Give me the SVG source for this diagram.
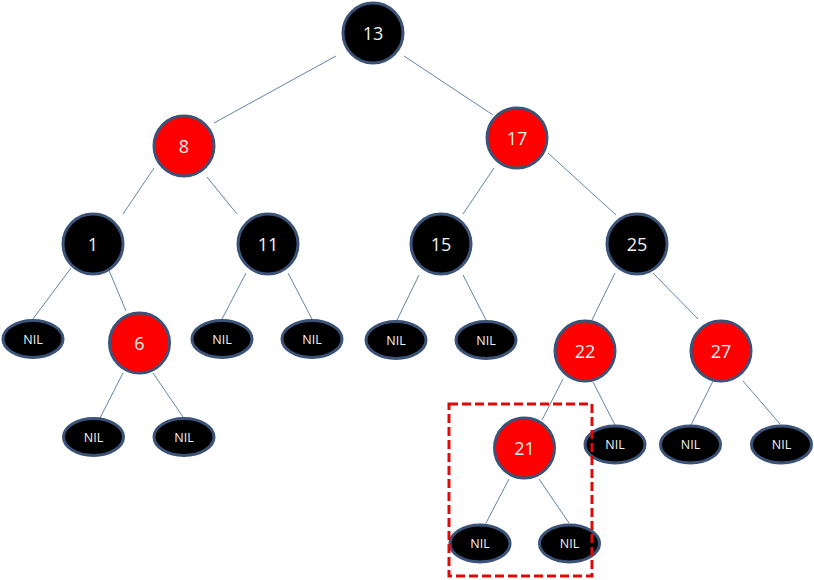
<svg xmlns="http://www.w3.org/2000/svg" width="814" height="580" viewBox="0 0 814 580">
<style>
.edge{stroke:#6482ab;stroke-width:1;fill:none}
.node{stroke:#3b5378;stroke-width:3}
.blk{fill:#000}
.red{fill:#ff0000}
.lbl{fill:#f2f2f2;font-family:"Open Sans","Liberation Sans",sans-serif;font-size:18px;text-anchor:middle;dominant-baseline:central}
.nil{fill:#f2f2f2;font-family:"Open Sans","Liberation Sans",sans-serif;font-size:12.5px;text-anchor:middle;dominant-baseline:central}
.hl{fill:none;stroke:#dd0a0a;stroke-width:3;stroke-dasharray:9 4}
</style>
<rect width="814" height="580" fill="#fff"/>
<g id="connectors">
<line class="edge" x1="336" y1="56" x2="214" y2="123"/>
<line class="edge" x1="404" y1="56" x2="493" y2="115"/>
<line class="edge" x1="154" y1="168" x2="123" y2="214"/>
<line class="edge" x1="207" y1="177" x2="237" y2="214"/>
<line class="edge" x1="494" y1="168" x2="463" y2="214"/>
<line class="edge" x1="548" y1="153" x2="616" y2="215"/>
<line class="edge" x1="71" y1="268" x2="33" y2="319"/>
<line class="edge" x1="108" y1="268" x2="126" y2="311"/>
<line class="edge" x1="246" y1="273" x2="222" y2="319"/>
<line class="edge" x1="288" y1="273" x2="312" y2="319"/>
<line class="edge" x1="419" y1="275" x2="397" y2="320"/>
<line class="edge" x1="463" y1="275" x2="486" y2="320"/>
<line class="edge" x1="615" y1="273" x2="592" y2="320"/>
<line class="edge" x1="653" y1="273" x2="698" y2="319"/>
<line class="edge" x1="123" y1="373" x2="100" y2="418"/>
<line class="edge" x1="153" y1="373" x2="183" y2="417"/>
<line class="edge" x1="563" y1="379" x2="542" y2="420"/>
<line class="edge" x1="593" y1="382" x2="615" y2="425"/>
<line class="edge" x1="713" y1="381" x2="691" y2="425"/>
<line class="edge" x1="743" y1="381" x2="780" y2="424"/>
<line class="edge" x1="509" y1="479" x2="486" y2="523"/>
<line class="edge" x1="539" y1="479" x2="569" y2="523"/>
</g>
<g id="n13"><circle class="node blk" cx="373" cy="33" r="30"/><text class="lbl" x="373" y="33">13</text></g>
<g id="n8"><circle class="node red" cx="184" cy="146" r="30"/><text class="lbl" x="184" y="146">8</text></g>
<g id="n17"><circle class="node red" cx="517" cy="138" r="30"/><text class="lbl" x="517" y="138">17</text></g>
<g id="n1"><circle class="node blk" cx="93" cy="244" r="30"/><text class="lbl" x="93" y="244">1</text></g>
<g id="n11"><circle class="node blk" cx="268" cy="244" r="30"/><text class="lbl" x="268" y="244">11</text></g>
<g id="n15"><circle class="node blk" cx="441" cy="244" r="30"/><text class="lbl" x="441" y="244">15</text></g>
<g id="n25"><circle class="node blk" cx="637" cy="244" r="30"/><text class="lbl" x="637" y="244">25</text></g>
<g id="n6"><circle class="node red" cx="139.5" cy="343" r="30"/><text class="lbl" x="139.5" y="343">6</text></g>
<g id="n22"><circle class="node red" cx="585" cy="351" r="30"/><text class="lbl" x="585" y="351">22</text></g>
<g id="n27"><circle class="node red" cx="721" cy="351" r="30"/><text class="lbl" x="721" y="351">27</text></g>
<g id="n21"><circle class="node red" cx="524.5" cy="448" r="30"/><text class="lbl" x="524.5" y="448">21</text></g>
<g id="nil1"><ellipse class="node blk" cx="33" cy="339" rx="30" ry="18.5"/><text class="nil" x="33" y="339">NIL</text></g>
<g id="nil2"><ellipse class="node blk" cx="222" cy="339" rx="30" ry="18.5"/><text class="nil" x="222" y="339">NIL</text></g>
<g id="nil3"><ellipse class="node blk" cx="312" cy="339" rx="30" ry="18.5"/><text class="nil" x="312" y="339">NIL</text></g>
<g id="nil4"><ellipse class="node blk" cx="396" cy="340" rx="30" ry="18.5"/><text class="nil" x="396" y="340">NIL</text></g>
<g id="nil5"><ellipse class="node blk" cx="486" cy="340" rx="30" ry="18.5"/><text class="nil" x="486" y="340">NIL</text></g>
<g id="nil6"><ellipse class="node blk" cx="93.5" cy="437" rx="30" ry="18.5"/><text class="nil" x="93.5" y="437">NIL</text></g>
<g id="nil7"><ellipse class="node blk" cx="184" cy="437" rx="30" ry="18.5"/><text class="nil" x="184" y="437">NIL</text></g>
<g id="nil8"><ellipse class="node blk" cx="615" cy="444.5" rx="30" ry="18.5"/><text class="nil" x="615" y="444.5">NIL</text></g>
<g id="nil9"><ellipse class="node blk" cx="690.5" cy="444.5" rx="30" ry="18.5"/><text class="nil" x="690.5" y="444.5">NIL</text></g>
<g id="nil10"><ellipse class="node blk" cx="781.5" cy="444.5" rx="30" ry="18.5"/><text class="nil" x="781.5" y="444.5">NIL</text></g>
<g id="nil11"><ellipse class="node blk" cx="480" cy="543.5" rx="30" ry="18.5"/><text class="nil" x="480" y="543.5">NIL</text></g>
<g id="nil12"><ellipse class="node blk" cx="569.5" cy="543.5" rx="30" ry="18.5"/><text class="nil" x="569.5" y="543.5">NIL</text></g>
<g id="highlight"><rect class="hl" x="449" y="404" width="143" height="172"/></g>
</svg>
